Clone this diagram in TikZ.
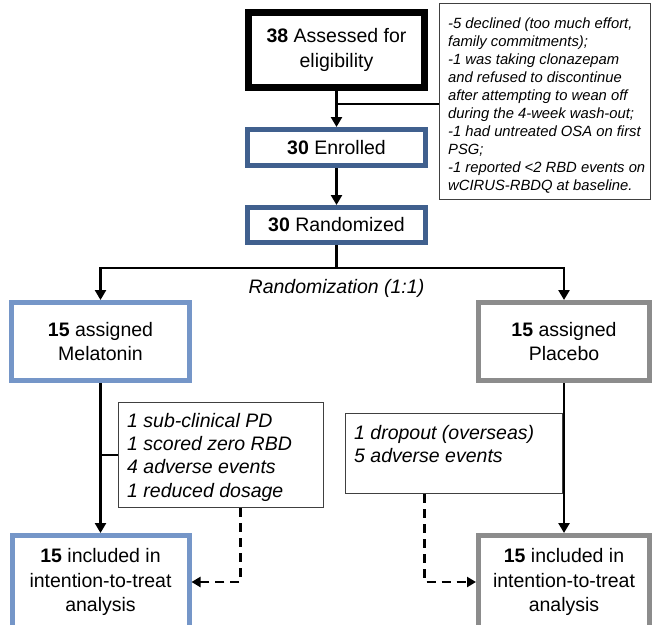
\documentclass[tikz,border=0pt]{standalone}
\usepackage{fontspec}
\setmainfont{Liberation Sans}
\usetikzlibrary{arrows.meta}
\definecolor{dblue}{RGB}{64,96,142}
\definecolor{lblue}{RGB}{117,150,200}
\definecolor{mgray}{RGB}{140,140,140}
\begin{document}
\begin{tikzpicture}[x=1pt,y=-1pt,
  bigbox/.style={draw, font=\fontsize{19.5}{24.5}\selectfont, align=center, inner sep=0pt, fill=white},
  conn/.style={line width=2.6pt, draw=black},
  arr/.style={conn, -{Triangle[width=11pt,length=10pt]}},
  darr/.style={line width=2.6pt, draw=black, dash pattern=on 9pt off 6pt, -{Triangle[width=10pt,length=9pt]}},
  notebox/.style={draw=black!75, line width=1.1pt, inner sep=0pt, fill=white},
  notetext/.style={font=\fontsize{19.5}{23.3}\selectfont\itshape, align=left, inner sep=0pt, anchor=north west},
]
\clip (0,0) rectangle (652,624);
\fill[white] (0,0) rectangle (652,624);

% main boxes
\node[bigbox, line width=7pt, minimum width=176pt, minimum height=75pt] (assess) at (336.5,50) {\textbf{38} Assessed for\\eligibility};
\node[bigbox, draw=dblue, line width=5pt, minimum width=178pt, minimum height=36pt] (enrol) at (336.5,147.5) {\textbf{30} Enrolled};
\node[bigbox, draw=dblue, line width=5pt, minimum width=178pt, minimum height=35pt] (rand) at (336.5,225) {\textbf{30} Randomized};
\node[bigbox, draw=lblue, line width=5pt, minimum width=178pt, minimum height=78pt] (mel) at (100.5,341.5) {\textbf{15} assigned\\Melatonin};
\node[bigbox, draw=mgray, line width=5pt, minimum width=171pt, minimum height=78pt] (plac) at (564,341.5) {\textbf{15} assigned\\Placebo};
\node[bigbox, draw=lblue, line width=5pt, minimum width=177pt, minimum height=93pt] (inc1) at (100.5,582) {\textbf{15} included in\\intention-to-treat\\analysis};
\node[bigbox, draw=mgray, line width=5pt, minimum width=171pt, minimum height=93pt] (inc2) at (564,582) {\textbf{15} included in\\intention-to-treat\\analysis};

% note boxes
\node[notebox, minimum width=211pt, minimum height=196pt, anchor=north west] (tnote) at (439,3) {};
\node[notetext, font=\fontsize{14.8}{18}\selectfont\itshape] (tnotet) at ([xshift=9pt,yshift=-15pt]tnote.north west) {-5 declined (too much effort,\\family commitments);\\-1 was taking clonazepam\\and refused to discontinue\\after attempting to wean off\\during the 4-week wash-out;\\-1 had untreated OSA on first\\PSG;\\-1 reported <2 RBD events on\\wCIRUS-RBDQ at baseline.};

\node[notebox, minimum width=205pt, minimum height=105pt, anchor=north west] (n1) at (118,402) {};
\node[notetext] (n1t) at ([xshift=9pt,yshift=-11pt]n1.north west) {1 sub-clinical PD\\1 scored zero RBD\\4 adverse events\\1 reduced dosage};

\node[notebox, minimum width=217pt, minimum height=80pt, anchor=north west] (n2) at (345,413) {};
\node[notetext] (n2t) at ([xshift=9pt,yshift=-12pt]n2.north west) {1 dropout (overseas)\\5 adverse events};

\node[font=\fontsize{19.5}{24}\selectfont\itshape] (rlabel) at (336.5,288) {Randomization (1:1)};

% coordinates
\coordinate (yj) at (0,104);
\coordinate (ysplit) at (0,268);
\coordinate (ytick) at (0,455);

% connectors
\draw[arr] (assess.south) -- (enrol.north);
\draw[conn] (tnote.west |- yj) -- (assess.south |- yj);
\draw[arr] (enrol.south) -- (rand.north);
\draw[conn] (rand.south) -- (rand.south |- ysplit);
\draw[arr] (rand.south |- ysplit) -| (mel.north);
\draw[arr] (rand.south |- ysplit) -| (plac.north);

\draw[arr] (mel.south) -- (mel.south |- inc1.north);
\draw[arr] (plac.south) -- (plac.south |- inc2.north);
\draw[conn] (mel.south |- ytick) -- (n1.west |- ytick);
\draw[conn] (plac.south |- ytick) -- (n2.east |- ytick);

\draw[darr] ([xshift=19.5pt]n1.south) |- (inc1.east);
\draw[darr] ([xshift=-29.5pt]n2.south) |- (inc2.west);
\end{tikzpicture}
\end{document}
